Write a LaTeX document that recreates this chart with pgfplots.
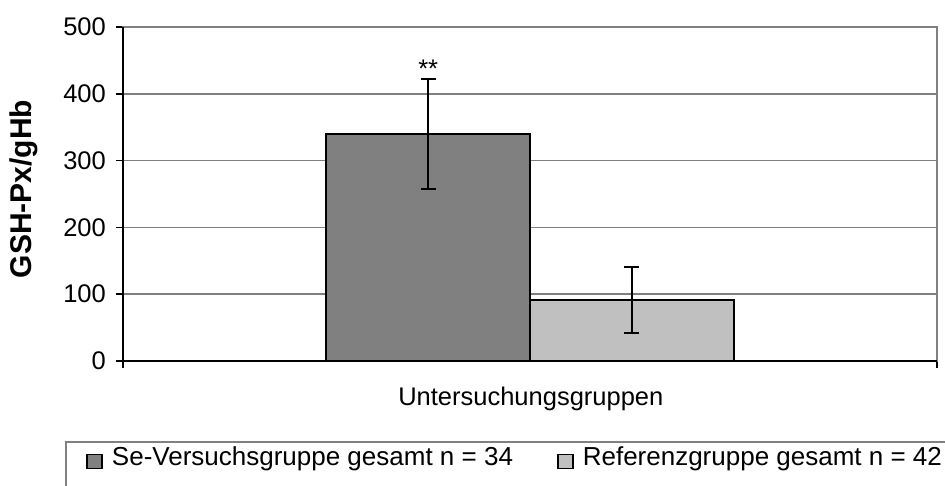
\documentclass[border=0pt]{standalone}
\usepackage{pgfplots}
\pgfplotsset{compat=1.18}
\usepackage{fontspec}
\setmainfont{Liberation Sans}
\definecolor{bardark}{RGB}{128,128,128}
\definecolor{barlight}{RGB}{192,192,192}
\definecolor{gridc}{RGB}{128,128,128}
\begin{document}
\begin{tikzpicture}
\useasboundingbox (-123pt,-125pt) rectangle (822pt,361pt);
\begin{axis}[
  width=814pt, height=334pt, scale only axis,
  xmin=0, xmax=4, ymin=0, ymax=500,
  clip=false,
  ybar, bar width=1, bar shift=0pt,
  ytick={0,100,...,500},
  xtick={0,4}, xticklabels={},
  ymajorgrids, grid style={gridc, line width=1.5pt},
  axis line style={gridc, line width=1.5pt},
  tick align=outside, major tick length=7pt,
  tick style={black, line width=1.5pt},
  xtick pos=bottom, ytick pos=left,
  /pgf/number format/assume math mode=true,
  tick label style={font=\fontsize{25.5}{30}\selectfont},
  yticklabel style={inner sep=0pt, xshift=-10pt},
  xlabel={Untersuchungsgruppen},
  xlabel style={font=\fontsize{25.5}{30}\selectfont, at={(axis description cs:0.501,-0.1347)}, anchor=base},
  ylabel={GSH-Px/gHb},
  ylabel style={font=\fontsize{30}{34}\selectfont\bfseries, at={(axis description cs:-0.1216,0.515)}, anchor=center},
  legend columns=2,
  legend cell align=left,
  legend style={at={(axis description cs:-0.0700,-0.2425)}, anchor=north west,
    draw=none, fill=none, font=\fontsize{26}{31}\selectfont,
    inner xsep=20pt, inner ysep=2pt,
    /tikz/every even column/.append style={column sep=42pt}},
  legend image code/.code={\draw[#1, draw=black, line width=1.5pt] (0pt,-12pt) rectangle (15pt,2pt); \path (22pt,0pt);},
]
\addplot[fill=bardark, draw=black, line width=2pt,
  error bars/.cd, y dir=both, y explicit,
  error bar style={black, line width=2pt},
  error mark options={rotate=90, mark size=7.5pt, line width=2pt, black}]
  coordinates {(1.5,339.5) +- (0,82.5)};
\addlegendentry{Se-Versuchsgruppe gesamt n = 34}
\addplot[fill=barlight, draw=black, line width=2pt,
  error bars/.cd, y dir=both, y explicit,
  error bar style={black, line width=2pt},
  error mark options={rotate=90, mark size=7.5pt, line width=2pt, black}]
  coordinates {(2.5,91) +- (0,49.5)};
\addlegendentry{Referenzgruppe gesamt n = 42}
\draw[black, line width=1.5pt] (rel axis cs:0,1) -- (rel axis cs:0,0) -- (rel axis cs:1,0);
\draw[gridc, line width=1.5pt] (axis description cs:1.05,-0.6) -- (axis description cs:-0.0700,-0.6) |- (axis description cs:1.05,-0.2425);
\node[anchor=base, font=\fontsize{25.5}{30}\selectfont] at (axis cs:1.5,424) {**};
\end{axis}
\end{tikzpicture}
\end{document}
